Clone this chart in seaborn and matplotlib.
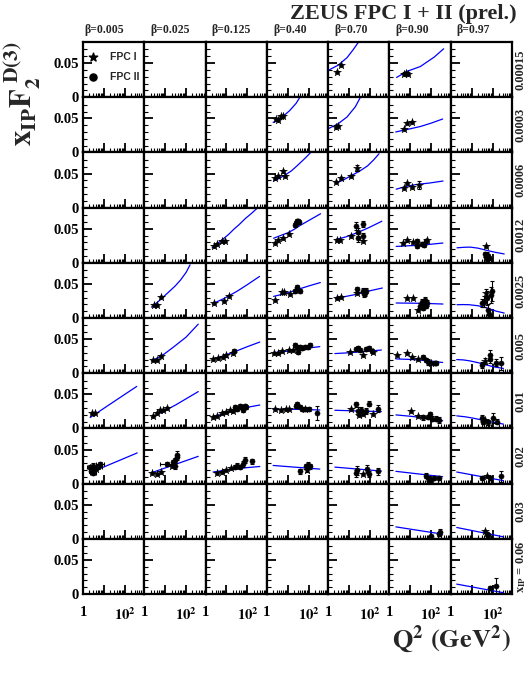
import matplotlib
matplotlib.use("Agg")
import matplotlib.pyplot as plt
import numpy as np
import pandas as pd
import seaborn as sns
from matplotlib.ticker import FixedLocator, FixedFormatter, LogLocator, NullFormatter

# ---- grid labels -------------------------------------------------------
BETAS = ["0.005", "0.025", "0.125", "0.40", "0.70", "0.90", "0.97"]
XPOM = ["0.00015", "0.0003", "0.0006", "0.0012", "0.0025",
        "0.005", "0.01", "0.02", "0.03", "0.06"]

# ---- per-row data: {beta column: [(Q2, value[, err[, xfactor]]), ...]} ----
# model curves (Q2, xIP*F2D3)
CURVE_R0 = {4: [(1.1, .040), (3, .047), (8, .058), (16, .070), (30, .082)],
            5: [(2.2, .029), (7, .038), (30, .045), (140, .059), (390, .071)]}
CURVE_R1 = {3: [(2.0, .044), (5, .051), (12, .061), (25, .072), (40, .082)],
            4: [(1.05, .035), (3, .042), (8, .052), (20, .067), (35, .081)],
            5: [(2.0, .030), (8, .034), (30, .038), (100, .043), (350, .049)]}
CURVE_R2 = {3: [(2.1, .039), (4, .043), (7.6, .048), (15, .054), (27, .061), (60, .071), (118, .080)],
            4: [(2.25, .036), (5, .040), (12, .0465), (30, .053), (75, .061), (150, .070), (270, .079)],
            5: [(2.1, .027), (6, .031), (20, .034), (80, .036), (365, .039)]}
CURVE_R3 = {2: [(2.07, .022), (4, .029), (7.6, .036), (13, .042), (22, .049), (40, .056),
                (80, .065), (150, .072), (290, .080)],
            3: [(2.1, .036), (4.5, .040), (10, .044), (20, .049), (40, .055), (100, .062), (370, .072)],
            4: [(2.25, .034), (7, .038), (24, .044), (80, .051), (370, .061)],
            5: [(2.1, .024), (8, .025), (20, .0255), (80, .027), (360, .029)],
            6: [(2.0, .022), (4.5, .0228), (8.7, .023), (20, .0215), (57, .018), (130, .0155), (360, .013)]}
CURVE_R4 = {1: [(2.2, .016), (5, .025), (13, .0366), (30, .047), (55, .056), (100, .067), (154, .078)],
            2: [(2.07, .0205), (8, .029), (31, .039), (100, .049), (380, .061)],
            3: [(2.1, .0317), (8, .036), (27, .0415), (100, .047), (360, .052)],
            4: [(2.25, .029), (8, .032), (25, .035), (100, .040), (390, .044)],
            5: [(2.1, .022), (10, .0218), (43, .0215), (360, .0205)],
            6: [(2.0, .0195), (4, .0197), (7.5, .0195), (20, .018), (57, .0146), (150, .010), (360, .0073)]}
CURVE_R5 = {1: [(2.25, .018), (8, .027), (25, .0384), (100, .053), (380, .072)],
            2: [(2.3, .0205), (8, .026), (30, .0326), (100, .039), (390, .0457)],
            3: [(2.0, .030), (8, .032), (26, .0346), (100, .037), (340, .039)],
            4: [(2.1, .0288), (10, .030), (47, .0317), (350, .034)],
            5: [(2.04, .021), (14, .020), (86, .018), (350, .0157)],
            6: [(1.94, .020), (4, .0195), (8.4, .018), (20, .0155), (52, .012), (130, .009), (330, .007)]}
CURVE_R6 = {0: [(2.2, .016), (28, .0387), (370, .0616)],
            1: [(2.25, .016), (30, .034), (380, .054)],
            2: [(2.3, .017), (8, .022), (30, .0266), (100, .031), (390, .0343)],
            3: [(2.0, .028), (30, .028), (340, .027)],
            4: [(2.1, .0266), (350, .0246)],
            5: [(2.04, .0198), (14, .0174), (80, .014), (350, .0111)],
            6: [(1.94, .0184), (5, .017), (12, .015), (50, .011), (330, .0063)]}
CURVE_R7 = {0: [(2.2, .016), (390, .045)],
            1: [(2.25, .016), (380, .040)],
            2: [(2.3, .017), (8, .0195), (30, .0217), (100, .0235), (390, .0251)],
            3: [(2.0, .0266), (340, .0213)],
            4: [(2.1, .0242), (350, .0184)],
            5: [(2.04, .018), (350, .0101)],
            6: [(1.94, .017), (330, .0043)]}
CURVE_R8 = {5: [(2.04, .0175), (350, .0068)],
            6: [(1.94, .0166), (330, .0029)]}
CURVE_R9 = {6: [(1.94, .0145), (330, .0019)]}

# FPC I measurements (stars)
FPC1_R0 = {4: [(2.6, .037), (3.9, .047)],
           5: [(5.0, .034), (6.0, .036), (7.5, .034)]}
FPC1_R1 = {3: [(2.7, .049), (3.6, .048), (5.0, .053), (6.2, .054)],
           4: [(2.5, .038), (3.0, .039)],
           5: [(5.0, .034), (6.6, .043), (12, .044)]}
FPC1_R2 = {3: [(2.5, .044), (3.6, .046), (5.8, .053), (7.6, .047)],
           4: [(2.5, .038), (3.9, .043), (12.7, .047), (24.6, .058, .004)],
           5: [(5.0, .029), (6.6, .036), (11.4, .030), (24.6, .033, .006)]}
FPC1_R3 = {2: [(2.5, .024), (3.6, .028), (6.2, .032), (8.7, .032)],
           3: [(2.5, .029), (3.6, .033), (5.8, .036), (12, .042)],
           4: [(2.7, .034), (3.7, .034), (12, .039), (48, .032)],
           5: [(4.7, .029), (6.6, .033), (13, .031), (60, .034)],
           6: [(47, .0245)]}
FPC1_R4 = {1: [(2.8, .0185), (4.0, .0195), (6.2, .031)],
           2: [(2.5, .022), (7.5, .025), (13, .032)],
           3: [(2.5, .026), (5.3, .038), (6.8, .038), (13, .035)],
           4: [(2.7, .029), (3.9, .031), (25, .037)],
           5: [(6.8, .030), (13, .030), (24.5, .012)],
           6: [(47, .037, .006)]}
FPC1_R5 = {1: [(2.7, .019), (3.9, .020), (6.0, .025)],
           2: [(2.3, .021), (4.0, .022), (7.0, .024), (10, .026), (21, .029)],
           3: [(2.2, .0297), (3.3, .0297), (5.5, .032), (11, .0336), (17, .0346)],
           4: [(11, .031), (47, .0273), (143, .031)],
           5: [(2.2, .0264), (6.6, .0297), (11.5, .024), (24, .0215), (99, .015)],
           6: [(44, .018, .004)]}
FPC1_R6 = {0: [(2.6, .0229), (3.8, .0229)],
           1: [(2.7, .018), (4.2, .022), (5.6, .0266), (8.0, .0276), (12.5, .0305)],
           2: [(2.3, .017), (3.4, .018), (5.8, .0227), (10, .0242), (14, .0266), (21, .0256)],
           3: [(2.4, .028), (4.5, .027), (8.0, .028), (12, .028), (70, .028)],
           4: [(12, .029), (29, .0193), (47, .0213), (142, .0213)],
           5: [(11, .0256), (24, .0179)],
           6: [(44, .0125)]}
FPC1_R7 = {0: [(2.6, .0195), (4.2, .0217)],
           1: [(2.25, .0159), (4.2, .014), (6.6, .0174), (20, .0256)],
           2: [(3.4, .0162), (5.8, .0177), (10, .0203), (17, .0227)],
           3: [(82, .0203, .004)],
           4: [(47, .014)],
           6: [(52, .011)]}
FPC1_R8 = {6: [(44, .0116)]}
FPC1_R9 = {}

# FPC II measurements (dots)
FPC2_R0 = {}
FPC2_R1 = {}
FPC2_R2 = {}
FPC2_R3 = {3: [(22, .055, .003), (25, .058, .003), (28, .061, .003), (32, .062, .003), (36, .060, .003)],
           4: [(22, .054, .006), (26, .045, .006), (28, .036, .006), (44, .057, .005), (46, .039, .005)],
           5: [(20, .032, .003), (21, .025, .003), (35, .028, .003), (46, .0255, .003), (57, .032, .003)],
           6: [(42, .0125, .004), (47, .009, .004), (55, .012, .004), (62, .0096, .004),
               (57, .0053, .003), (70, .0067, .003)]}
FPC2_R4 = {3: [(23, .039, .003), (27, .043, .003), (29, .046, .003), (37, .039, .003)],
           4: [(23, .042, .004), (48, .040, .004), (52, .035, .004), (60, .036, .004), (66, .040, .004)],
           5: [(30, .018, .004), (35, .024, .004), (40, .015, .003), (45, .021, .004),
               (52, .027, .004), (58, .017, .003), (65, .022, .004)],
           6: [(32, .022, .006), (38, .024, .008), (57, .029, .010), (80, .034, .012),
               (90, .040, .015), (60, .012, .008), (70, .006, .006)]}
FPC2_R5 = {2: [(22, .0326, .003)],
           3: [(22, .041, .003), (29, .0385, .003), (38, .039, .003), (50, .0375, .003),
               (64, .039, .003), (94, .0385, .003), (113, .041, .003), (31, .031, .003)],
           4: [(21, .036, .003), (27, .0375, .003), (35, .0336, .003), (68, .035, .003),
               (90, .037, .003), (120, .0326, .003)],
           5: [(41, .024, .003), (57, .020, .003), (69, .0167, .004), (145, .0143, .003), (170, .0143, .003)],
           6: [(30, .012, .004), (75, .0264, .008), (78, .0215, .006), (145, .0152, .005), (245, .0143, .010)]}
FPC2_R6 = {2: [(25, .031, .003), (33, .0288, .003), (44, .0333, .003), (53, .031, .003),
               (62, .0266, .003), (75, .0333, .003), (90, .031, .003)],
           3: [(25, .0333, .003), (29, .0356, .003), (38, .031, .003), (50, .029, .003),
               (65, .029, .003), (100, .029, .003), (250, .0227, .010)],
           4: [(21, .0352, .004), (27, .0256, .006), (39, .0275, .004), (64, .0256, .005),
               (90, .0362, .004), (250, .029, .005)],
           5: [(41, .016, .003), (72, .017, .003), (90, .0208, .003), (110, .0145, .004),
               (165, .0145, .003), (235, .0121, .004)],
           6: [(30, .015, .004), (36, .010, .004), (63, .0087, .004), (101, .015, .007), (158, .010, .004)]}
FPC2_R7 = {0: [(2.2, .0245, .003, 1.4), (3.1, .0265, .003, 1.4), (5.3, .0245, .003, 1.5),
               (6.5, .0285, .003, 1.5), (3.1, .0149, .003, 1.4), (2.4, .018, .003, 1.3)],
           1: [(11.6, .0285, .003, 2.0), (24, .0318, .003), (28, .034, .003), (35, .039, .004),
               (38, .0425, .005), (31, .026, .004)],
           2: [(25, .0241, .003), (33, .0265, .003), (44, .0241, .003), (63, .029, .004),
               (75, .0347, .004), (158, .0328, .004)],
           3: [(38, .018, .004), (78, .0251, .004), (95, .0275, .004), (115, .0251, .004)],
           4: [(21, .0149, .005), (24, .0193, .006), (75, .0217, .005), (90, .014, .004), (250, .018, .005)],
           5: [(57, .0116, .004), (69, .0077, .004), (92, .0053, .003), (130, .0087, .003), (235, .0087, .003)],
           6: [(30, .0077, .003), (75, .0077, .003), (245, .011, .008)]}
FPC2_R8 = {5: [(92, .0039, .002), (250, .010, .004), (240, .0068, .003)],
           6: [(52, .0068, .003), (60, .005, .003)]}
FPC2_R9 = {6: [(75, .0082, .003), (145, .0116, .012)]}

ROWS = [
    (CURVE_R0, FPC1_R0, FPC2_R0), (CURVE_R1, FPC1_R1, FPC2_R1),
    (CURVE_R2, FPC1_R2, FPC2_R2), (CURVE_R3, FPC1_R3, FPC2_R3),
    (CURVE_R4, FPC1_R4, FPC2_R4), (CURVE_R5, FPC1_R5, FPC2_R5),
    (CURVE_R6, FPC1_R6, FPC2_R6), (CURVE_R7, FPC1_R7, FPC2_R7),
    (CURVE_R8, FPC1_R8, FPC2_R8), (CURVE_R9, FPC1_R9, FPC2_R9),
]

# ---- style -------------------------------------------------------------
sns.set_style("ticks")
plt.rcParams.update({
    "font.family": ["Liberation Serif", "DejaVu Serif"],
    "font.weight": "bold",
    "mathtext.fontset": "stix",
    "axes.linewidth": 1.6,
    "axes.edgecolor": "black",
})

W, H = 530, 673
fig, axes = plt.subplots(10, 7, figsize=(W / 100, H / 100), dpi=100,
                         sharex=True, sharey=True)
fig.subplots_adjust(left=83 / W, right=512 / W, top=1 - 42 / H,
                    bottom=1 - 594 / H, wspace=0, hspace=0)

XMIN, XMAX = 1.0, 850.0
YMIN, YMAX = 0.0, 0.081
BLUE = "#0000ff"


def to_frame(points):
    rows = []
    for p in points:
        q, v = p[0], p[1]
        e = p[2] if len(p) > 2 else 0.0015
        xf = p[3] if len(p) > 3 else 1.0
        rows.append({"Q2": q, "F": v, "err": e, "xlo": q - q / xf, "xhi": q * xf - q})
    return pd.DataFrame(rows)


for r, (curves, fpc1, fpc2) in enumerate(ROWS):
    for c in range(7):
        ax = axes[r, c]
        ax.set_xscale("log")
        if c in curves:
            cdf = pd.DataFrame(curves[c], columns=["Q2", "F"])
            sns.lineplot(data=cdf, x="Q2", y="F", ax=ax, color=BLUE, lw=0.9,
                         estimator=None, sort=True)
        for pts, marker, size in ((fpc2.get(c), "o", 14), (fpc1.get(c), "*", 36)):
            if not pts:
                continue
            df = to_frame(pts)
            ax.errorbar(df["Q2"], df["F"], yerr=df["err"],
                        xerr=[df["xlo"], df["xhi"]], fmt="none",
                        ecolor="black", elinewidth=0.8, capsize=1.5, capthick=0.8)
            sns.scatterplot(data=df, x="Q2", y="F", ax=ax, marker=marker, s=size,
                            color="black", edgecolor="black", linewidth=0.3, zorder=4)

        ax.set_xlim(XMIN, XMAX)
        ax.set_ylim(YMIN, YMAX)
        ax.set_xlabel("")
        ax.set_ylabel("")
        for s in ax.spines.values():
            s.set_visible(True)
            s.set_linewidth(1.6)
        ax.xaxis.set_major_locator(FixedLocator([1, 10, 100]))
        ax.xaxis.set_minor_locator(LogLocator(base=10, subs=np.arange(2, 10)))
        ax.xaxis.set_minor_formatter(NullFormatter())
        ax.xaxis.set_major_formatter(FixedFormatter(["1", "", r"$\mathbf{10^{2}}$"]))
        ax.yaxis.set_major_locator(FixedLocator([0, 0.05]))
        ax.yaxis.set_minor_locator(FixedLocator([0.01, 0.02, 0.03, 0.04, 0.06, 0.07]))
        ax.yaxis.set_major_formatter(FixedFormatter(["0", "0.05"]))
        ax.tick_params(which="both", direction="in", top=False, right=False,
                       colors="black", labelsize=10.5, width=1.0)
        ax.tick_params(which="major", length=6.5, width=1.3)
        ax.tick_params(which="minor", length=3.2, width=0.8)
        ax.tick_params(axis="x", which="major", pad=9)
        ax.tick_params(axis="y", which="major", pad=3)
        for lab in ax.get_xticklabels() + ax.get_yticklabels():
            lab.set_fontweight("bold")

# legend markers in the first panel
ax0 = axes[0, 0]
ax0.scatter([0.16], [0.72], marker="*", s=40, color="black", transform=ax0.transAxes, zorder=5)
ax0.scatter([0.16], [0.37], marker="o", s=26, color="black", transform=ax0.transAxes, zorder=5)
ax0.text(0.44, 0.72, "FPC I", transform=ax0.transAxes, va="center", ha="left",
         fontsize=7.5, fontweight="bold", family="Liberation Sans")
ax0.text(0.44, 0.37, "FPC II", transform=ax0.transAxes, va="center", ha="left",
         fontsize=7.5, fontweight="bold", family="Liberation Sans")

# column headers
col_left = [83 + 61.3 * c for c in range(7)]
for c, b in enumerate(BETAS):
    off = 1 if c == 0 else 6
    fig.text((col_left[c] + off) / W, 1 - 30 / H, "\u03b2=" + b, ha="left", va="center",
             fontsize=8.5, fontweight="bold")

# row labels on the right
for r, xp in enumerate(XPOM):
    yc = 42 + 55.2 * r + 27.6
    label = xp if r < 9 else r"$\mathbf{x_{IP}}$ = " + xp
    fig.text(521 / W, 1 - yc / H, label, rotation=90, ha="center", va="center",
             fontsize=9, fontweight="bold")

fig.text(517 / W, 1 - 14 / H, "ZEUS FPC I + II (prel.)", ha="right", va="center",
         fontsize=16, fontweight="bold")
fig.text(22 / W, 1 - 94 / H, r"$\mathbf{x_{IP}F_{2}^{\ D(3)}}$", rotation=90,
         ha="center", va="center", fontsize=22)
fig.text(511 / W, 1 - 640 / H, r"$\mathbf{Q^{2}\ (GeV^{2})}$", ha="right", va="center",
         fontsize=19)

fig.savefig("out.png", dpi=100)
